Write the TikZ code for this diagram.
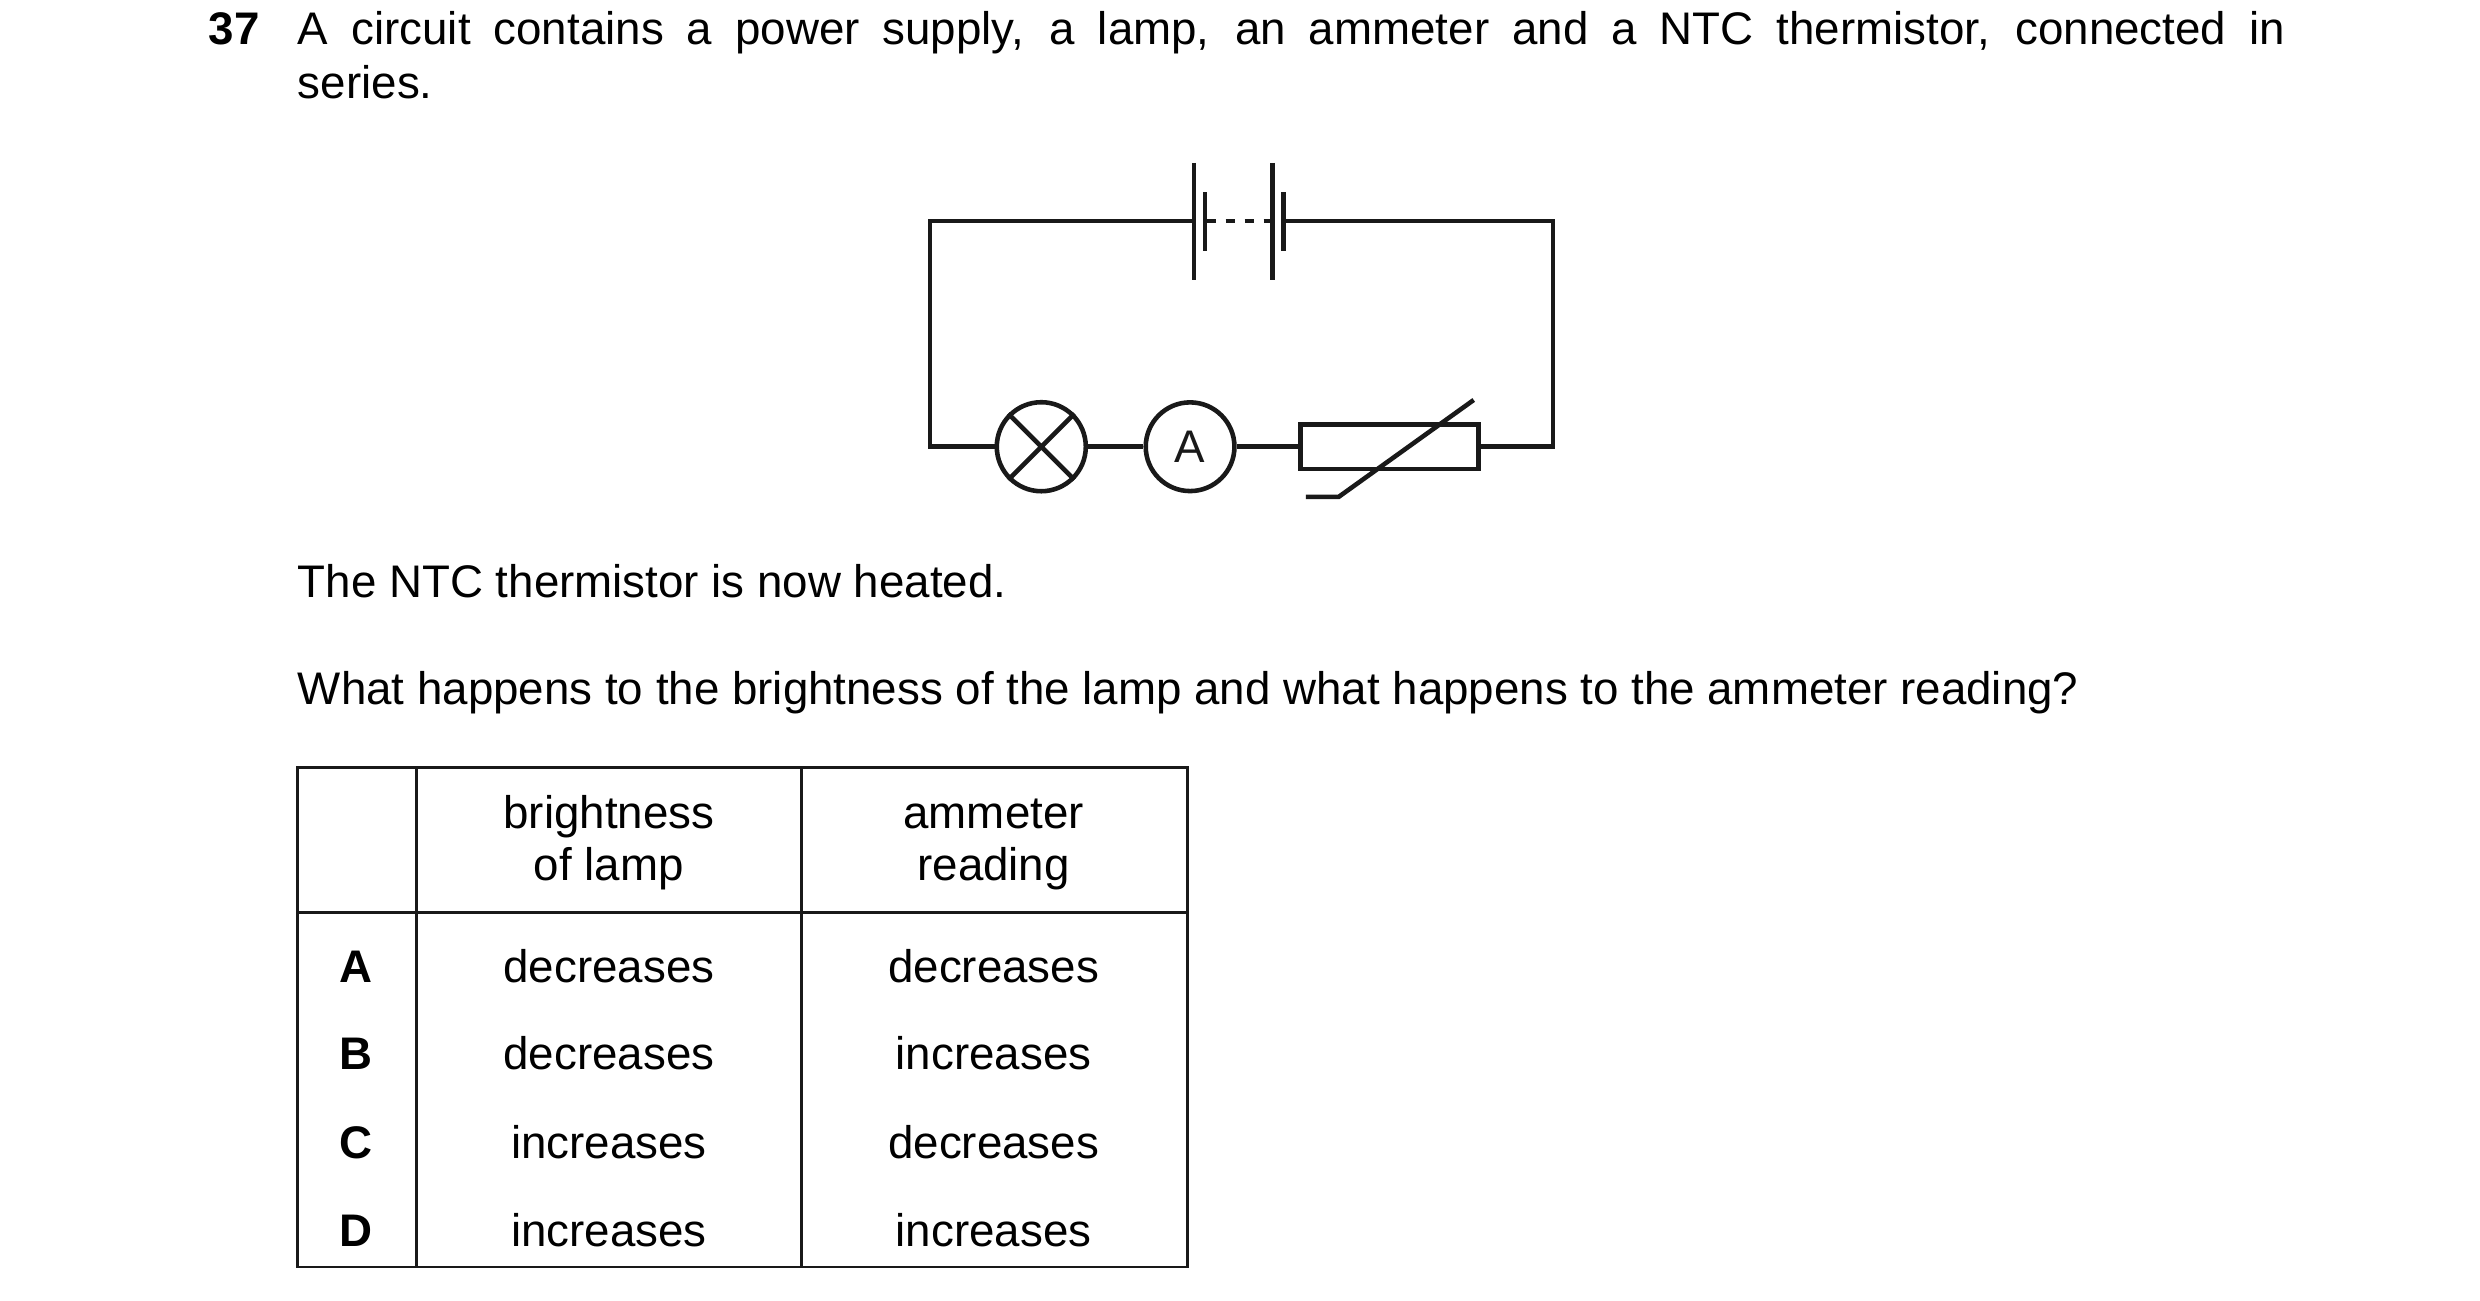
\documentclass[tikz,border=0pt]{standalone}
\usepackage{fontspec}
\setmainfont{Liberation Sans}
\begin{document}
\begin{tikzpicture}[x=0.15897mm,y=-0.15897mm,
  w/.style={line width=1.3pt,black!90},
  tl/.style={line width=0.8pt,black!90},
  txt/.style={inner sep=0,anchor=base west,font=\fontsize{13}{15}\selectfont},
  ct/.style={inner sep=0,anchor=base,font=\fontsize{13}{15}\selectfont}]
\useasboundingbox (0,0) rectangle (1560,818);
% question text
\node[txt,font=\fontsize{13}{15}\selectfont\bfseries] (num) at (131,28) {37};
\node[txt] (l1) at (187,28) {\makebox[198.7mm][s]{A circuit contains a power supply, a lamp, an ammeter and a NTC thermistor, connected in}};
\node[txt] (l2) at (187,62) {series.};
% circuit
\coordinate (tl) at (585,139); \coordinate (tr) at (977,139);
\coordinate (bl) at (585,281); \coordinate (br) at (977,281);
\draw[w] (751,139) -- (tl) -- (bl) -- (627,281);
\draw[w] (807.5,139) -- (tr) -- (br) -- (930,281);
\draw[w] (751,102.5) -- (751,176);
\draw[w] (758,121) -- (758,158);
\draw[w] (800.5,102.5) -- (800.5,176);
\draw[w] (807.5,121) -- (807.5,158);
\draw[w,dash pattern=on 2.8pt off 2.6pt] (759,139) -- (800.5,139);
\node[w,draw,circle,minimum size=56*0.15897mm,inner sep=0] (lamp) at (655,281) {};
\draw[w] (lamp.45) -- (lamp.225) (lamp.135) -- (lamp.315);
\node[w,draw,circle,minimum size=55.8*0.15897mm,inner sep=0,font=\fontsize{13}{15}\selectfont] (amm) at (748.6,281) {A};
\draw[w] (lamp.east) -- (amm.west);
\draw[w] (818,267) rectangle (930,295);
\draw[w] (amm.east) -- (818,281);
\draw[w] (821.5,312.6) -- (842,312.6) -- (927,251.6);
% text
\node[txt] (t1) at (187,376) {The NTC thermistor is now heated.};
\node[txt] (t2) at (187,443) {What happens to the brightness of the lamp and what happens to the ammeter reading?};
% table
\draw[tl] (187,483) rectangle (747,797);
\draw[tl] (262,483) -- (262,797) (504,483) -- (504,797) (187,574) -- (747,574);
\node[ct] (h1a) at (383,521) {brightness};
\node[ct] (h1b) at (383,554) {of lamp};
\node[ct] (h2a) at (625,521) {ammeter};
\node[ct] (h2b) at (625,554) {reading};
\foreach \L/\b/\a/\y in {A/decreases/decreases/618,B/decreases/increases/673,C/increases/decreases/729,D/increases/increases/784}{
  \node[ct,font=\fontsize{13}{15}\selectfont\bfseries] (r\L) at (224,\y) {\L};
  \node[ct] (b\L) at (383,\y) {\b};
  \node[ct] (a\L) at (625,\y) {\a};
}
\end{tikzpicture}
\end{document}
